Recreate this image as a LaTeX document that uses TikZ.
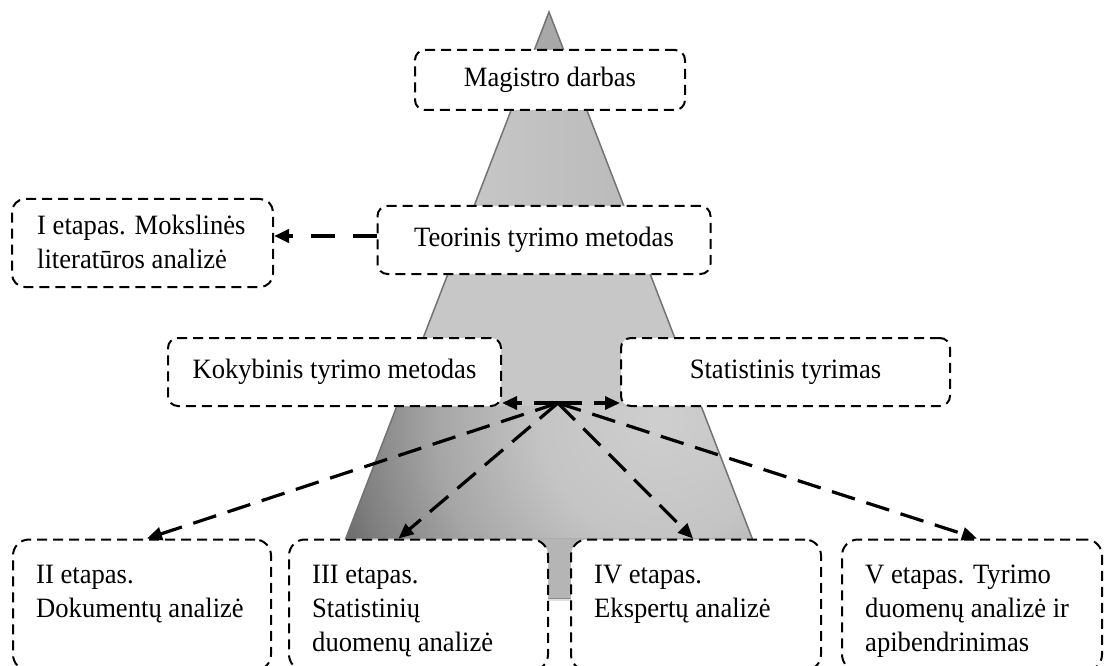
\documentclass[tikz,border=0pt]{standalone}
\usepackage{fontspec}
\setmainfont{Liberation Serif}[FakeStretch=0.95]
\usetikzlibrary{arrows.meta,calc,shadings}
\definecolor{pTip}{gray}{0.66}
\definecolor{pBandL}{gray}{0.78}
\definecolor{pBandR}{gray}{0.73}
\definecolor{pMid}{gray}{0.78}
\definecolor{pEdge}{gray}{0.45}
\definecolor{gA}{gray}{0.81}
\definecolor{gB}{gray}{0.77}
\definecolor{gC}{gray}{0.65}
\definecolor{gE}{gray}{0.50}
\definecolor{gD}{gray}{0.40}
\definecolor{pStem}{gray}{0.71}
\pgfdeclareradialshading{pyrshade}{\pgfpointorigin}{color(0bp)=(gA); color(7.5bp)=(gB); color(14bp)=(gC); color(19bp)=(gE); color(21.5bp)=(gD); color(50bp)=(gD)}
\begin{document}
\begin{tikzpicture}[x=1pt,y=-1pt,
  box/.style={draw=black, line width=2pt, dash pattern=on 10pt off 6pt, fill=white,
    rounded corners=10pt, inner sep=0pt, font=\fontsize{28}{34}\selectfont},
  bigbox/.style={box, rounded corners=16pt, minimum height=131pt},
  arr/.style={line width=3.2pt, dash pattern=on 24pt off 12pt,
    -{Triangle[length=15pt,width=13pt]}},
  txt/.style={inner sep=0pt, align=left, font=\fontsize{28}{34}\selectfont},
]
\clip (0,0) rectangle (1104,666);
% pyramid
\fill[pTip] (549,12) -- (575.2,80) -- (522.8,80) -- cycle;
\shade[left color=pBandL, right color=pBandR] (522.8,80) -- (575.2,80) -- (637,240) -- (461,240) -- cycle;
\fill[pMid] (461,240) -- (637,240) -- (701.1,406) -- (396.9,406) -- cycle;
\fill[pStem] (346,538) -- (752,538) -- (775.2,598) -- (322.8,598) -- cycle;
\begin{scope}
  \clip (396.9,406) -- (701.1,406) -- (752,538) -- (346,538) -- cycle;
  \fill[gD] (340,400) rectangle (760,545);
  \shade[shading=pyrshade] (660,420) circle (400);
\end{scope}
\fill[black!12] (322.8,598) rectangle (775.2,601);
\draw[pEdge, line width=1.5pt] (322.8,598) -- (549,12) -- (775.2,598);
\draw[black!45, line width=1pt] (322.8,598) -- (775.2,598);

% boxes
\node[box, minimum width=270pt, minimum height=60pt] (mag) at (550,80) {Magistro darbas};
\node[box, minimum width=333pt, minimum height=68pt] (teo) at (544,240) {Teorinis tyrimo metodas};
\node[box, rounded corners=13pt, minimum width=261pt, minimum height=88pt] (et1) at (142.5,243) {};
\node[txt, anchor=west] (et1t) at ([xshift=26pt,yshift=1pt]et1.west) {I etapas. Mokslinės\\literatūros analizė};
\node[box, minimum width=333pt, minimum height=68pt] (kok) at (334.5,372) {Kokybinis tyrimo metodas};
\node[box, minimum width=329pt, minimum height=68pt] (sta) at (785.5,372) {Statistinis tyrimas};

\node[bigbox, minimum width=258pt] (b2) at (142,605) {};
\node[bigbox, minimum width=259pt] (b3) at (418.5,605) {};
\node[bigbox, minimum width=250pt] (b4) at (696,605) {};
\node[bigbox, minimum width=260pt] (b5) at (972,605) {};
\node[txt, anchor=north west] (b2t) at ([xshift=24pt,yshift=-26pt]b2.north west) {II etapas.\\Dokumentų analizė};
\node[txt, anchor=north west] (b3t) at ([xshift=24pt,yshift=-26pt]b3.north west) {III etapas.\\Statistinių\\duomenų analizė};
\node[txt, anchor=north west] (b4t) at ([xshift=24pt,yshift=-26pt]b4.north west) {IV etapas.\\Ekspertų analizė};
\node[txt, anchor=north west] (b5t) at ([xshift=24pt,yshift=-26pt]b5.north west) {V etapas. Tyrimo\\duomenų analizė ir\\apibendrinimas};

% connectors
\coordinate (hub) at (558,403);
\draw[arr, line width=4pt, dash pattern=on 24pt off 18pt] ([yshift=4pt]teo.west) -- ([yshift=4pt]teo.west -| et1.east);
\draw[arr] (hub) -- (hub -| kok.east);
\draw[arr] (hub) -- (hub -| sta.west);
\draw[arr] (hub) -- ([xshift=5pt]b2.north);
\draw[arr] (hub) -- ([xshift=-20pt]b3.north);
\draw[arr] (hub) -- ([xshift=-3pt]b4.north);
\draw[arr] (hub) -- ([xshift=5pt]b5.north);
\end{tikzpicture}
\end{document}
